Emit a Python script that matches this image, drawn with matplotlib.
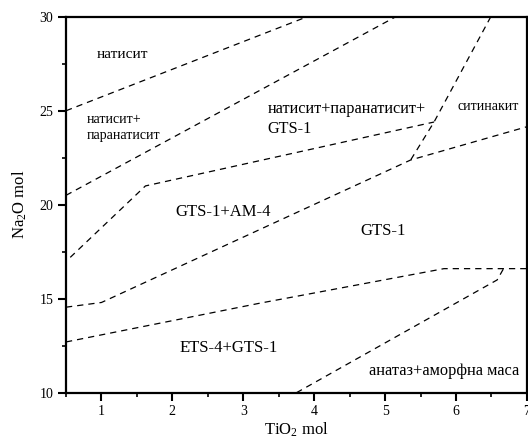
import matplotlib
matplotlib.use("Agg")
import matplotlib.pyplot as plt
from matplotlib.ticker import MultipleLocator

plt.rcParams['font.family'] = ['Liberation Serif', 'DejaVu Serif']
plt.rcParams['mathtext.fontset'] = 'custom'
plt.rcParams['mathtext.rm'] = 'Liberation Serif'
plt.rcParams['mathtext.it'] = 'Liberation Serif:italic'

## boundary lines of the phase fields (TiO2 mol, Na2O mol)
line1_x = [0.5, 3.9]
line1_y = [25.0, 30.0]

line2_x = [0.5, 5.15]
line2_y = [20.5, 30.0]

line3_x = [0.56, 1.62, 5.69]
line3_y = [17.2, 21.0, 24.4]

steep_x = [6.49, 5.69, 5.36]
steep_y = [30.0, 24.4, 22.38]

line4_x = [0.5, 1.0, 5.36, 7.0]
line4_y = [14.55, 14.8, 22.38, 24.15]

line5_x = [0.5, 3.23, 5.83, 7.0]
line5_y = [12.7, 14.76, 16.6, 16.6]

line6_x = [3.75, 6.58, 6.67]
line6_y = [10.0, 16.0, 16.6]

## field labels
labels = ['натисит', 'натисит+\nпаранатисит', 'GTS-1+AM-4',
          'натисит+паранатисит+\nGTS-1', 'ситинакит', 'GTS-1',
          'ETS-4+GTS-1', 'анатаз+аморфна маса']
label_x = [1.30, 0.79, 2.72, 3.34, 6.46, 4.97, 2.80, 5.83]
label_y = [28.0, 24.1, 19.63, 24.55, 25.2, 18.62, 12.36, 11.17]
label_ha = ['center', 'left', 'center', 'left', 'center', 'center', 'center', 'center']
label_size = [11, 10, 12, 11.7, 10, 12, 12, 11.8]

fig = plt.figure(figsize=(5.28, 4.41), dpi=100)
ax = fig.add_axes([0.125, 0.1095, 0.873, 0.8525])

for xs, ys in [(line1_x, line1_y), (line2_x, line2_y), (line3_x, line3_y),
               (steep_x, steep_y), (line4_x, line4_y), (line5_x, line5_y),
               (line6_x, line6_y)]:
    ax.plot(xs, ys, color='black', linestyle=(0, (5, 4)), linewidth=0.9)

for t, x, y, ha, s in zip(labels, label_x, label_y, label_ha, label_size):
    ax.text(x, y, t, ha=ha, va='center', fontsize=s, linespacing=1.35)

ax.set_xlim(0.5, 7)
ax.set_ylim(10, 30)
ax.xaxis.set_major_locator(MultipleLocator(1))
ax.xaxis.set_minor_locator(MultipleLocator(0.5))
ax.yaxis.set_major_locator(MultipleLocator(5))
ax.yaxis.set_minor_locator(MultipleLocator(2.5))
ax.tick_params(which='major', direction='out', length=6, width=1.5, labelsize=10, pad=3)
ax.tick_params(which='minor', direction='out', length=3, width=1.2)
for sp in ax.spines.values():
    sp.set_linewidth(1.6)

ax.set_xlabel('TiO$_2$ mol', fontsize=12, labelpad=2)
ax.set_ylabel('Na$_2$O mol', fontsize=12, labelpad=8)

fig.savefig('out.png', dpi=100)
